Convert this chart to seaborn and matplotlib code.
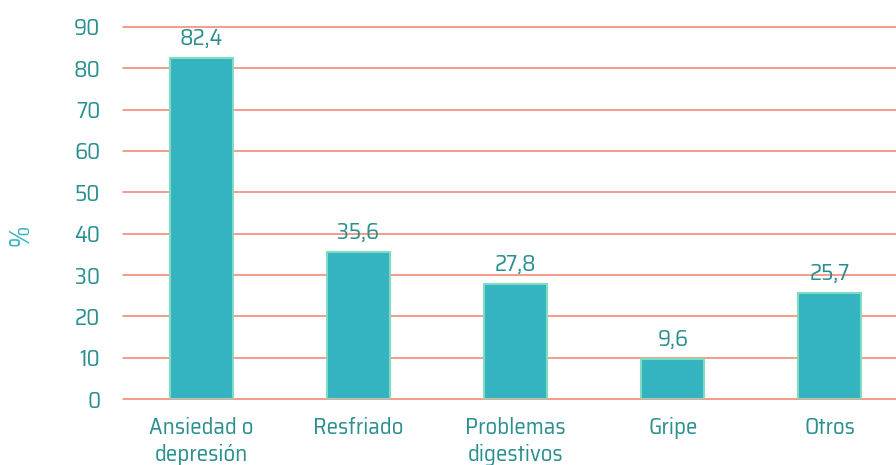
import matplotlib
matplotlib.use("Agg")
import matplotlib.pyplot as plt
import seaborn as sns
import pandas as pd

categories = ["Ansiedad o\ndepresión", "Resfriado", "Problemas\ndigestivos", "Gripe", "Otros"]
values = [82.4, 35.6, 27.8, 9.6, 25.7]
value_labels = ["82,4", "35,6", "27,8", "9,6", "25,7"]
yticks = [0, 10, 20, 30, 40, 50, 60, 70, 80, 90]

sns.set_style("white")
plt.rcParams['font.family'] = ["Saira SemiCondensed", 'DejaVu Sans']

text_color = "#2a8f8f"
bar_color = "#34b3c1"
edge_color = "#7fdcc0"
grid_color = "#f58b76"

fig = plt.figure(figsize=(8.96, 4.65), dpi=100)
ax = fig.add_axes([122.5/896, 66/465, 786/896, 372/465])

df = pd.DataFrame({"cat": categories, "val": values})
sns.barplot(data=df, x="cat", y="val", ax=ax, color=bar_color, width=0.4,
            edgecolor=edge_color, linewidth=1.5, saturation=1, zorder=3)

ax.set_ylim(0, 90)
ax.set_xlim(-0.5, 4.5)
ax.set_yticks(yticks)
for y in yticks:
    ax.axhline(y, color=grid_color, lw=1.2, zorder=1, clip_on=False)
for s in ax.spines.values():
    s.set_visible(False)

ax.tick_params(axis='both', length=0, labelsize=16.5, colors=text_color)
ax.tick_params(axis='y', pad=16)
ax.tick_params(axis='x', pad=13)
for lab in ax.get_xticklabels():
    lab.set_linespacing(1.3)
ax.set_xlabel("")
ax.set_ylabel("%", color="#3ab5c5", fontsize=21)
ax.yaxis.set_label_coords(-0.112, 0.44)

for i, (v, lab) in enumerate(zip(values, value_labels)):
    ax.text(i, v + 2.0, lab, ha='center', va='bottom', fontsize=16.5, color=text_color)

fig.savefig("out.png", dpi=100)
